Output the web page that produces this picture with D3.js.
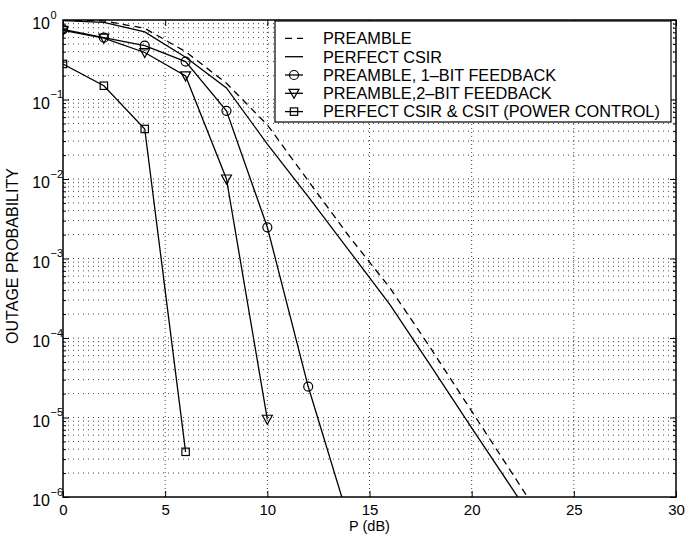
<!DOCTYPE html>
<html>
<head>
<meta charset="utf-8">
<script src="https://cdn.jsdelivr.net/npm/d3@7"></script>
<style>
  body { margin: 0; background: #fff; }
  text { font-family: "Liberation Sans", Arial, Helvetica, sans-serif; fill: #000; }
  .grid line { stroke: #444; stroke-width: 1; }
  .ax path { display: none; }
  .ax line { stroke: #000; stroke-width: 1; }
</style>
</head>
<body>
<script>
// data
var pdb = [0, 2, 4, 6, 8, 10, 12, 14, 16, 18, 20, 22, 24];
var preamble = [0.999, 0.975, 0.786, 0.40, 0.16, 0.048, 0.0095, 0.0019, 4.27e-4, 7.4e-5, 1.2e-5, 1.95e-6, 3.16e-7];
var perfectCsir = [0.98, 0.935, 0.71, 0.34, 0.14, 0.0275, 0.0060, 0.00126, 2.63e-4, 4.47e-5, 7.41e-6, 1.26e-6, 2.09e-7];

var fb1x = [0, 2, 4, 6, 8, 10, 12, 14];
var fb1 = [0.76, 0.60, 0.475, 0.30, 0.072, 0.00247, 2.45e-5, 5e-7];

var fb2x = [0, 2, 4, 6, 8, 10];
var fb2 = [0.74, 0.59, 0.39, 0.198, 0.0100, 9.5e-6];

var pcx = [0, 2, 4, 6];
var pc = [0.28, 0.149, 0.0426, 3.7e-6];

var xTicks = [0, 5, 10, 15, 20, 25, 30];
var yExps = [0, -1, -2, -3, -4, -5, -6];

var legendLabels = ["PREAMBLE", "PERFECT CSIR", "PREAMBLE, 1\u2013BIT FEEDBACK",
                    "PREAMBLE,2\u2013BIT FEEDBACK", "PERFECT CSIR & CSIT (POWER CONTROL)"];

// set the dimensions and margins of the graph
var margin = {top: 20, right: 10, bottom: 40, left: 63},
    width = 686 - margin.left - margin.right,
    height = 537 - margin.top - margin.bottom;

var svg = d3.select("body")
    .append("svg")
    .attr("width", 686)
    .attr("height", 537)
    .append("g")
    .attr("transform", "translate(" + margin.left + "," + margin.top + ")");

var x = d3.scaleLinear().domain([0, 30]).range([0, width]);
var y = d3.scaleLog().domain([1e-6, 1]).range([height, 0]);

var decades = yExps.map(function(e){ return Math.pow(10, e); });
var minors = [];
yExps.slice(1).forEach(function(e){
    for (var m = 2; m <= 9; m++) minors.push(m * Math.pow(10, e));
});

// dotted grid
svg.append("g").attr("class", "grid")
    .selectAll("line")
    .data(decades.slice(1, -1).concat(minors))
    .enter().append("line")
    .attr("x1", 0).attr("x2", width)
    .attr("y1", function(d){ return y(d); })
    .attr("y2", function(d){ return y(d); })
    .attr("stroke-dasharray", "1,4");

svg.append("g").attr("class", "grid")
    .selectAll("line")
    .data(xTicks.slice(1, -1))
    .enter().append("line")
    .attr("y1", 0).attr("y2", height)
    .attr("x1", function(d){ return x(d); })
    .attr("x2", function(d){ return x(d); })
    .attr("stroke-dasharray", "1,3");

// axes, ticks pointing inward
svg.append("g").attr("class", "ax")
    .attr("transform", "translate(0," + height + ")")
    .call(d3.axisBottom(x).tickValues(xTicks).tickSize(-6).tickSizeOuter(0).tickPadding(7))
    .selectAll("text")
    .style("font-size", "15px");

svg.append("g").attr("class", "ax")
    .call(d3.axisTop(x).tickValues(xTicks).tickSize(-6).tickSizeOuter(0).tickFormat(""));

var yAxis = svg.append("g").attr("class", "ax")
    .call(d3.axisLeft(y).tickValues(decades).tickSize(-6).tickSizeOuter(0).tickFormat(""));

svg.append("g").attr("class", "ax")
    .call(d3.axisLeft(y).tickValues(minors).tickSize(-3).tickSizeOuter(0).tickFormat(""));

svg.append("g").attr("class", "ax")
    .attr("transform", "translate(" + width + ",0)")
    .call(d3.axisRight(y).tickValues(decades).tickSize(-6).tickSizeOuter(0).tickFormat(""));

svg.append("g").attr("class", "ax")
    .attr("transform", "translate(" + width + ",0)")
    .call(d3.axisRight(y).tickValues(minors).tickSize(-3).tickSizeOuter(0).tickFormat(""));

// y labels as 10 with superscript
yAxis.selectAll(".tick text").remove();
yAxis.selectAll(".tick").each(function(d, i){
    var g = d3.select(this);
    g.append("text")
        .attr("x", -13)
        .attr("y", 8.5)
        .attr("text-anchor", "end")
        .style("font-size", "16px")
        .text("10");
    g.append("text")
        .attr("x", -12.5)
        .attr("y", -2)
        .attr("text-anchor", "start")
        .style("font-size", "11px")
        .text(yExps[i] == 0 ? "0" : "\u2212" + (-yExps[i]));
});

svg.append("rect")
    .attr("width", width).attr("height", height)
    .attr("fill", "none")
    .attr("stroke", "#000")
    .attr("stroke-width", 1.5);

// curves
svg.append("clipPath").attr("id", "clip")
    .append("rect").attr("width", width).attr("height", height);

var plot = svg.append("g").attr("clip-path", "url(#clip)");

var line = d3.line()
    .x(function(d){ return x(d[0]); })
    .y(function(d){ return y(d[1]); });

function pairs(xs, ys){ return xs.map(function(v, i){ return [v, ys[i]]; }); }

var series = [
    {xs: pdb, ys: preamble, dash: "7,5", mark: null},
    {xs: pdb, ys: perfectCsir, dash: null, mark: null},
    {xs: fb1x, ys: fb1, dash: null, mark: "circle"},
    {xs: fb2x, ys: fb2, dash: null, mark: "tri"},
    {xs: pcx, ys: pc, dash: null, mark: "square"}
];

function marker(sel, kind){
    if (kind == "circle") {
        sel.append("circle").attr("r", 4.5);
    } else if (kind == "tri") {
        sel.append("path").attr("d", "M-5,-4L5,-4L0,5Z");
    } else if (kind == "square") {
        sel.append("rect").attr("x", -3.7).attr("y", -3.7).attr("width", 7.4).attr("height", 7.4);
    }
    sel.attr("fill", "none").attr("stroke", "#000").attr("stroke-width", 1.2);
}

series.forEach(function(s){
    plot.append("path")
        .datum(pairs(s.xs, s.ys))
        .attr("d", line)
        .attr("fill", "none")
        .attr("stroke", "#000")
        .attr("stroke-width", 1.3)
        .attr("stroke-dasharray", s.dash);
    if (s.mark) {
        plot.selectAll(null)
            .data(pairs(s.xs, s.ys).filter(function(d){ return d[1] >= 1e-6; }))
            .enter().append("g")
            .attr("transform", function(d){ return "translate(" + x(d[0]) + "," + y(d[1]) + ")"; })
            .call(marker, s.mark);
    }
});

// legend
var leg = svg.append("g").attr("transform", "translate(212,1)");
leg.append("rect")
    .attr("width", 396).attr("height", 101)
    .attr("fill", "#fff")
    .attr("stroke", "#000")
    .attr("stroke-width", 1.2);

leg.selectAll(".row")
    .data(series)
    .enter().append("g")
    .attr("transform", function(d, i){ return "translate(0," + (17.4 + i * 18.3) + ")"; })
    .each(function(s, i){
        var g = d3.select(this);
        g.append("line")
            .attr("x1", 10).attr("x2", 28)
            .attr("stroke", "#000").attr("stroke-width", 1.3)
            .attr("stroke-dasharray", s.dash);
        if (s.mark) g.append("g").attr("transform", "translate(19,0)").call(marker, s.mark);
        g.append("text")
            .attr("x", 48).attr("y", 5.8)
            .style("font-size", "16.3px")
            .text(legendLabels[i]);
    });

// axis titles
svg.append("text")
    .attr("x", width / 2).attr("y", height + 34)
    .attr("text-anchor", "middle")
    .style("font-size", "14.5px")
    .text("P (dB)");

svg.append("text")
    .attr("transform", "translate(-45,236) rotate(-90)")
    .attr("text-anchor", "middle")
    .style("font-size", "16px")
    .text("OUTAGE PROBABILITY");
</script>
</body>
</html>
